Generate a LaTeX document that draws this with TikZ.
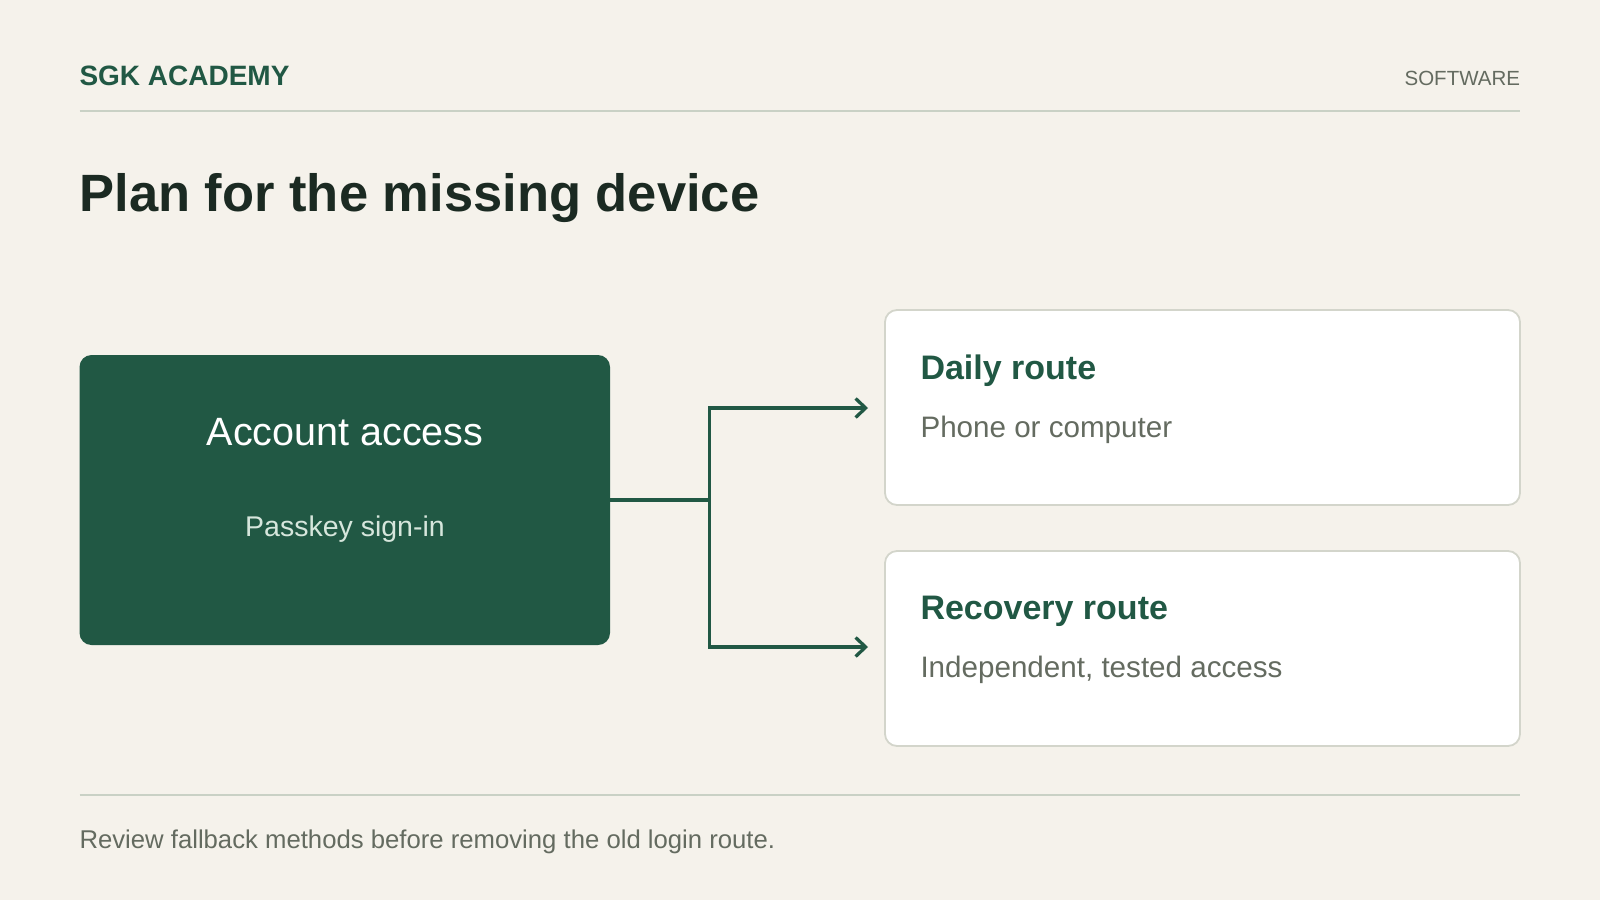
\documentclass[tikz,border=0pt]{standalone}
\usepackage{fontspec}
\setmainfont{Liberation Sans}
\usetikzlibrary{arrows.meta}
\definecolor{bg}{HTML}{F5F2EB}
\definecolor{brand}{HTML}{215844}
\definecolor{ink}{HTML}{1B2A22}
\definecolor{muted}{HTML}{646B60}
\definecolor{rulec}{HTML}{C9D1C5}
\definecolor{cardline}{HTML}{D3D5CB}
\definecolor{soft}{HTML}{D6E6DC}
\tikzset{
  txt/.style={inner sep=0pt, outer sep=0pt},
  card/.style={draw=cardline, line width=1.8pt, fill=white, rounded corners=12pt},
  mainbox/.style={fill=brand, rounded corners=12pt},
  conn/.style={draw=brand, line width=3.3pt},
  arr/.style={conn, -{Straight Barb[length=10pt, width=19pt, line width=3.3pt]}},
}
\begin{document}
\begin{tikzpicture}[x=1pt, y=-1pt]
\fill[bg] (0,0) rectangle (1600,900);
\useasboundingbox (0,0) rectangle (1600,900);
% header
\node[txt, anchor=base west, text=brand, font=\fontsize{28}{30}\selectfont\bfseries] (brandname) at (79.5,85) {SGK ACADEMY};
\node[txt, anchor=base east, text=muted, font=\fontsize{20.5}{24}\selectfont] (topic) at (1520,85.5) {SOFTWARE};
\draw[rulec, line width=1.6pt] (79.5,111) -- (1520,111);
% title
\node[txt, anchor=base west, text=ink, font=\fontsize{52.5}{58}\selectfont\bfseries] (title) at (79.5,211) {Plan for the missing device};
% main box
\path[mainbox] (79.5,355) rectangle (610,645);
\node[txt, anchor=base, text=white, font=\fontsize{39.5}{44}\selectfont] (acc) at (345,445) {Account access};
\node[txt, anchor=base, text=soft, font=\fontsize{28.5}{32}\selectfont] (pk) at (345,536) {Passkey sign-in};
\coordinate (src) at (610,500);
% cards
\path[card] (885,310) rectangle (1520,505);
\path[card] (885,551) rectangle (1520,746);
\coordinate (t1) at (868,408);
\coordinate (t2) at (868,647);
\node[txt, anchor=base west, text=brand, font=\fontsize{34}{38}\selectfont\bfseries] (daily) at (920.5,379) {Daily route};
\node[txt, anchor=base west, text=muted, font=\fontsize{29.6}{33}\selectfont] (dailysub) at (920.5,437) {Phone or computer};
\node[txt, anchor=base west, text=brand, font=\fontsize{34}{38}\selectfont\bfseries] (rec) at (920.5,619) {Recovery route};
\node[txt, anchor=base west, text=muted, font=\fontsize{29.6}{33}\selectfont] (recsub) at (920.5,677) {Independent, tested access};
% connectors
\coordinate (junc) at (709.5,500);
\draw[conn] (src) -- (junc);
\draw[arr] (junc) |- (t1);
\draw[arr] (junc) |- (t2);
% footer
\draw[rulec, line width=1.6pt] (79.5,795) -- (1520,795);
\node[txt, anchor=base west, text=muted, font=\fontsize{25.7}{29}\selectfont] (foot) at (79.5,848) {Review fallback methods before removing the old login route.};
\end{tikzpicture}
\end{document}
